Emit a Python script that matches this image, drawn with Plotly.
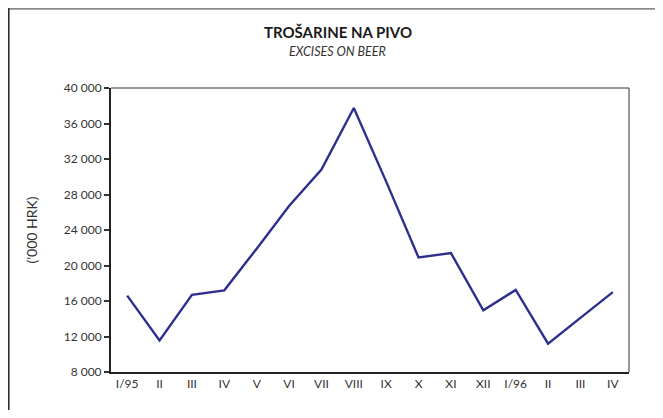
import plotly.graph_objects as go

months = ["I/95", "II", "III", "IV", "V", "VI", "VII", "VIII", "IX", "X", "XI", "XII",
          "I/96", "II", "III", "IV"]
values = [16600, 11550, 16700, 17200, 21900, 26700, 30800, 37750, 29450, 20900, 21400,
          14950, 17250, 11200, 14100, 17000]
y_ticks = [8000, 12000, 16000, 20000, 24000, 28000, 32000, 36000, 40000]

x_pos = list(range(len(months)))

# page body has an 8px margin; figure coordinates = page coordinates - 8
OFF = 8
W, H = 663 - 2 * OFF, 418 - 2 * OFF
L = 111 - OFF
T = 88 - OFF
R = W - (629.5 - OFF)
B = H - (372.5 - OFF)
pw, ph = W - L - R, H - T - B

def px(x):
    return (x - OFF - L) / pw

def py(y):
    return (H - B - (y - OFF)) / ph

fig = go.Figure()
fig.add_trace(go.Scatter(
    x=x_pos, y=values, mode="lines",
    line=dict(color="#2d2f8e", width=2.4),
    hoverinfo="skip", showlegend=False,
))

font = "Lato, 'Open Sans', 'DejaVu Sans', sans-serif"

fig.update_layout(
    width=W, height=H,
    margin=dict(l=L, r=R, t=T, b=B),
    paper_bgcolor="white", plot_bgcolor="white",
    separators=". ",
    font=dict(family=font, size=12, color="#333333"),
    xaxis=dict(
        range=[-0.5, 15.5], tickmode="array", tickvals=x_pos, ticktext=months,
        showgrid=False, zeroline=False, showline=True, linecolor="#222222",
        linewidth=2, ticks="", ticklen=0,
        tickfont=dict(size=12, color="#333333"), fixedrange=True,
    ),
    yaxis=dict(
        range=[8000, 40000], tickmode="array", tickvals=y_ticks, tickformat=",d",
        showgrid=False, zeroline=False, showline=True, linecolor="#222222",
        linewidth=2, ticks="outside", ticklen=5, tickwidth=1.5, tickcolor="#333333",
        tickfont=dict(size=12, color="#333333"), fixedrange=True,
        title=dict(text="('000 HRK)", font=dict(size=14, color="#333333"), standoff=23),
    ),
    annotations=[
        dict(text="<b>TROŠARINE NA PIVO</b>", xref="paper", yref="paper",
             x=px(338), y=py(31.5), showarrow=False, xanchor="center", yanchor="middle",
             font=dict(size=15, color="#1a1a1a", family=font)),
        dict(text="<i>EXCISES ON BEER</i>", xref="paper", yref="paper",
             x=px(338), y=py(51), showarrow=False, xanchor="center", yanchor="middle",
             font=dict(size=12.5, color="#333333", family=font)),
    ],
    shapes=[
        dict(type="line", xref="paper", yref="paper", x0=0, x1=1, y0=1, y1=1,
             line=dict(color="#333333", width=1)),
        dict(type="line", xref="paper", yref="paper", x0=1, x1=1, y0=0, y1=1,
             line=dict(color="#333333", width=1)),
        dict(type="line", xref="paper", yref="paper", x0=px(8), x1=px(670), y0=py(8.5), y1=py(8.5),
             line=dict(color="#8a8a8a", width=2)),
        dict(type="line", xref="paper", yref="paper", x0=px(8.7), x1=px(8.7), y0=py(8), y1=py(430),
             line=dict(color="#222222", width=1.5)),
    ],
)

fig.write_html("out.html")
